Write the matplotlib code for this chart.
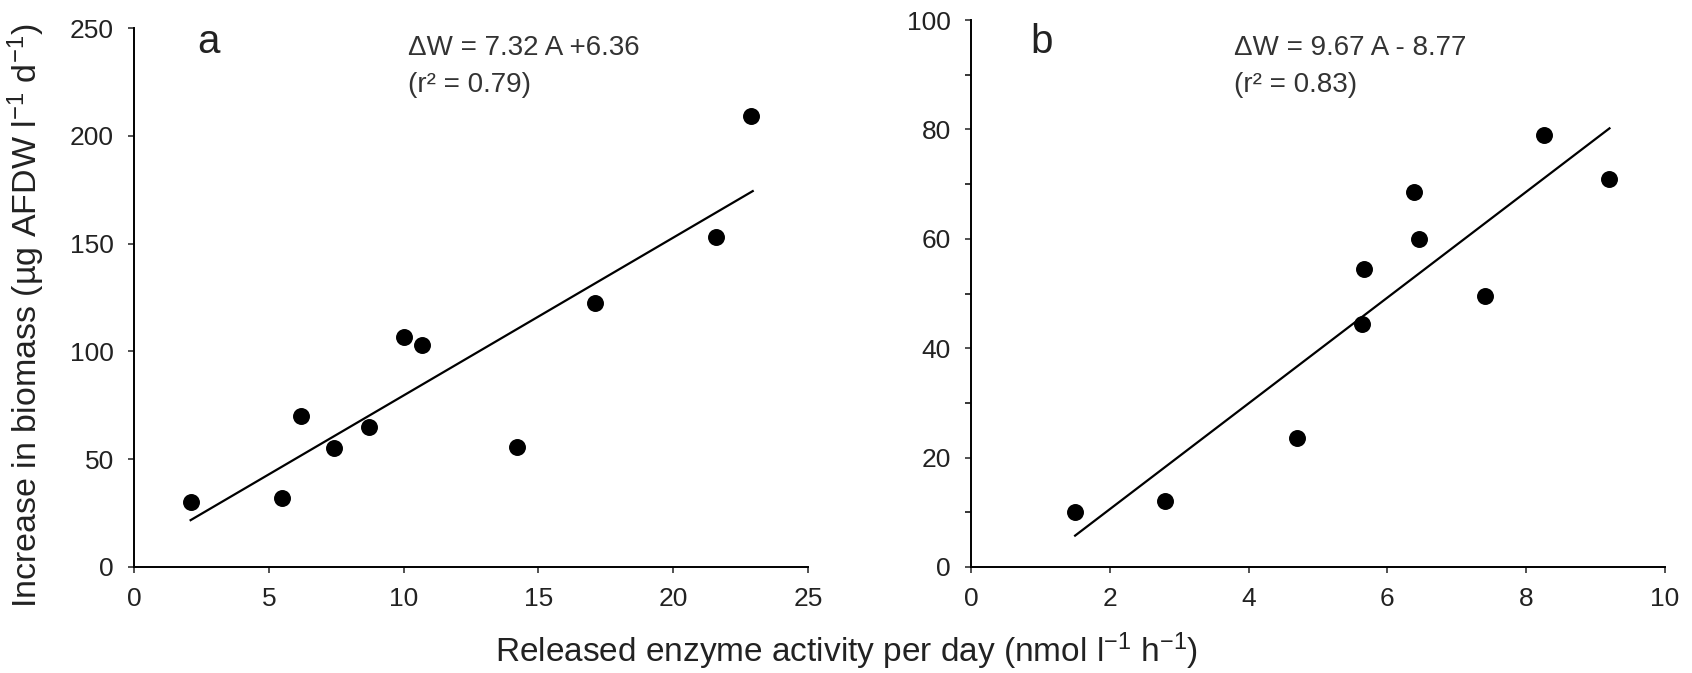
import numpy as np
import matplotlib
matplotlib.use("Agg")
import matplotlib.pyplot as plt
from matplotlib.ticker import MultipleLocator

# ------------------------------
# Data
# ------------------------------
# panel a: released enzyme activity vs increase in biomass
a_x = [2.1, 5.5, 6.2, 7.4, 8.7, 10.0, 10.7, 14.2, 17.1, 21.6, 22.9]
a_y = [30, 32, 70, 55, 65, 106.5, 103, 55.5, 122.5, 153, 209]
a_slope, a_icpt = 7.32, 6.36
a_fit_x = [2.1, 22.95]

# panel b
b_x = [1.5, 2.8, 4.7, 5.63, 5.67, 6.38, 6.46, 7.4, 8.26, 9.19]
b_y = [10, 12, 23.5, 44.5, 54.5, 68.5, 60, 49.5, 79, 71]
b_slope, b_icpt = 9.67, -8.77
b_fit_x = [1.5, 9.2]

a_eq, a_r2 = "\u0394W = 7.32 A +6.36", "(r\u00b2 = 0.79)"
b_eq, b_r2 = "\u0394W = 9.67 A - 8.77", "(r\u00b2 = 0.83)"

plt.rcParams["font.family"] = ["Liberation Sans", "DejaVu Sans"]
plt.rcParams["mathtext.fontset"] = "custom"
plt.rcParams["mathtext.rm"] = "Liberation Sans"
plt.rcParams["mathtext.it"] = "Liberation Sans"

W, H = 1692, 673
fig = plt.figure(figsize=(W / 100, H / 100), dpi=100)


def px(x, y):
    # pixel position (from top-left) -> figure fraction
    return x / W, 1 - y / H


ax_a = fig.add_axes([134 / W, 1 - 567 / H, 674 / W, 539 / H])
ax_b = fig.add_axes([971 / W, 1 - 567 / H, 694 / W, 547 / H])


def style(ax, xmax, ymax, xstep, ystep, ymin_step=None):
    ax.set_xlim(0, xmax)
    ax.set_ylim(0, ymax)
    for s in ["top", "right"]:
        ax.spines[s].set_visible(False)
    for s in ["left", "bottom"]:
        ax.spines[s].set_linewidth(1.4)
    ax.xaxis.set_major_locator(MultipleLocator(xstep))
    ax.yaxis.set_major_locator(MultipleLocator(ystep))
    if ymin_step:
        ax.yaxis.set_minor_locator(MultipleLocator(ymin_step))
        ax.tick_params(axis="y", which="minor", length=4.5, width=1.1, direction="out")
    ax.tick_params(which="major", length=4.5, width=1.1, direction="out",
                   labelsize=19, pad=10, colors="#222222")


# panel a
ax_a.scatter(a_x, a_y, s=125, color="black", zorder=3)
fx = np.array(a_fit_x)
ax_a.plot(fx, a_slope * fx + a_icpt, color="black", lw=1.6)
style(ax_a, 25, 250, 5, 50)

# panel b
ax_b.scatter(b_x, b_y, s=125, color="black", zorder=3)
fx = np.array(b_fit_x)
ax_b.plot(fx, b_slope * fx + b_icpt, color="black", lw=1.6)
style(ax_b, 10, 100, 2, 20, ymin_step=10)

# panel letters and regression equations
fig.text(*px(197, 53), "a", fontsize=29, va="baseline", color="#222222")
fig.text(*px(1030, 53), "b", fontsize=29, va="baseline", color="#222222")
fig.text(*px(408, 55), a_eq, fontsize=20, va="baseline", color="#333333")
fig.text(*px(408, 92), a_r2, fontsize=20, va="baseline", color="#333333")
fig.text(*px(1234, 55), b_eq, fontsize=20, va="baseline", color="#333333")
fig.text(*px(1234, 92), b_r2, fontsize=20, va="baseline", color="#333333")

fig.text(*px(26, 316), "Increase in biomass (\u00b5g AFDW l$^{-1}$ d$^{-1}$)",
         rotation=90, ha="center", va="center", fontsize=24.5, color="#222222")
fig.text(*px(847, 651), "Released enzyme activity per day (nmol l$^{-1}$ h$^{-1}$)",
         ha="center", va="center", fontsize=24, color="#222222")

fig.savefig("out.png", dpi=100)
